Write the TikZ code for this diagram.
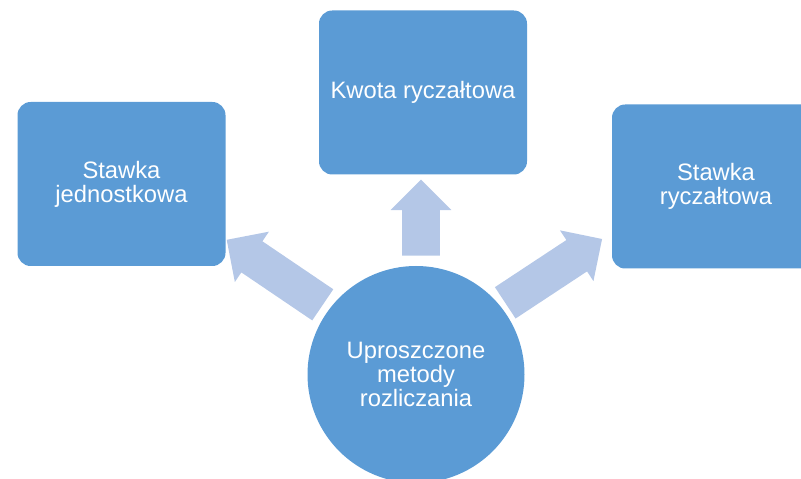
\documentclass[tikz,border=0pt]{standalone}
\usepackage{fontspec}
\setmainfont{Liberation Sans}
\usetikzlibrary{shapes.geometric,shapes.arrows}
\definecolor{boxblue}{HTML}{5B9BD5}
\definecolor{arrowblue}{HTML}{B4C7E7}
\tikzset{
metbox/.style={fill=boxblue,rounded corners=0.33cm,minimum width=5.2cm,minimum height=4.1cm,text=white,align=center,font=\fontsize{16.9}{17}\selectfont},
metcirc/.style={circle,fill=boxblue,minimum size=5.425cm,inner sep=0pt,text=white,align=center,font=\fontsize{16.9}{17.3}\selectfont},
bigarrow/.style={single arrow,fill=arrowblue,inner xsep=0pt,inner ysep=0.4625cm,single arrow head extend=0.29cm,single arrow tip angle=90,anchor=tail}
}
\begin{document}
\begin{tikzpicture}
\pgfmathsetmacro{\la}{1.9}
\pgfmathsetmacro{\lb}{2.9}
\useasboundingbox (0,0) rectangle (20.025,11.975);
\node[metbox](jedn) at (3.0375,7.375){Stawka\\jednostkowa};
\node[metbox](kwota) at (10.575,9.6625){Kwota ryczałtowa};
\node[metbox](rycz) at (17.9,7.3125){Stawka\\ryczałtowa};
\node[metcirc](metody) at (10.4,2.6125){Uproszczone\\metody\\rozliczania};
\node[bigarrow,minimum height=\la cm,rotate=90](arkwota) at (10.525,5.575){};
\node[bigarrow,minimum height=\lb cm,rotate=145.9](arjedn) at (8.075,4.35){};
\node[bigarrow,minimum height=\lb cm,rotate=33.4](arrycz) at (12.625,4.4){};
\end{tikzpicture}
\end{document}
